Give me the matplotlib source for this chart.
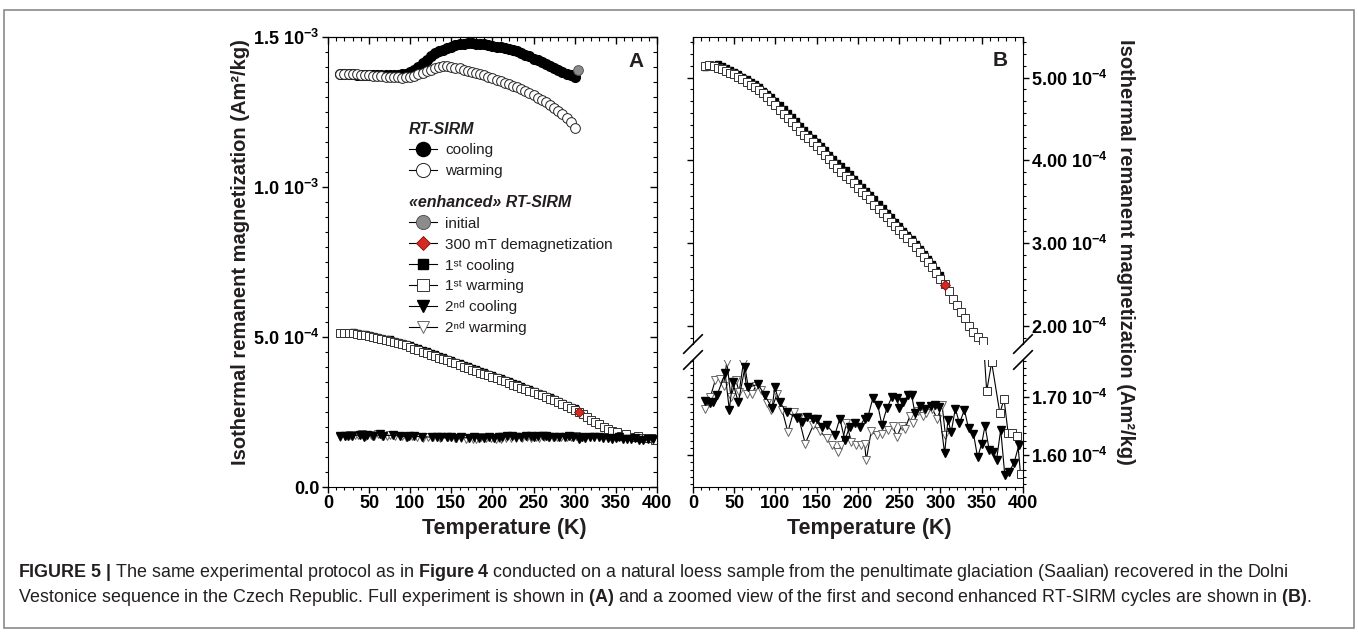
import matplotlib
matplotlib.use('Agg')
import matplotlib.pyplot as plt
from matplotlib.ticker import MultipleLocator, AutoMinorLocator
from matplotlib.patches import Rectangle
import numpy as np

plt.rcParams['font.family'] = ['Liberation Sans', 'DejaVu Sans']
plt.rcParams['mathtext.fontset'] = 'custom'
plt.rcParams['mathtext.rm'] = 'Liberation Sans'
plt.rcParams['mathtext.bf'] = 'Liberation Sans:bold'
plt.rcParams['mathtext.it'] = 'Liberation Sans:italic'
plt.rcParams['text.color'] = '#231f20'

# ---- data (temperature in K, magnetization) ----
# RT-SIRM, values in 1e-3 Am2/kg
rt_cool_t = [300, 295, 290, 285, 280, 275, 270, 265, 260, 255, 250, 245, 240, 235, 230,
             225, 220, 215, 210, 205, 200, 195, 190, 185, 180, 175, 170, 165, 160, 155,
             150, 145, 140, 135, 130, 125, 120, 115, 110, 105, 100, 95, 90, 85, 80,
             75, 70, 65, 60, 55, 50, 45, 40, 35, 30, 25, 20, 15]
rt_cool_m = [1.367, 1.372, 1.378, 1.384, 1.390, 1.397, 1.404, 1.410, 1.416, 1.422, 1.428, 1.435,
             1.441, 1.447, 1.452, 1.456, 1.460, 1.462, 1.465, 1.468, 1.470, 1.473, 1.475, 1.477,
             1.478, 1.479, 1.479, 1.478, 1.476, 1.472, 1.467, 1.463, 1.458, 1.452, 1.445, 1.435,
             1.423, 1.412, 1.400, 1.390, 1.383, 1.378, 1.375, 1.373, 1.373, 1.372, 1.372, 1.372,
             1.372, 1.373, 1.373, 1.373, 1.374, 1.374, 1.375, 1.375, 1.376, 1.376]
rt_warm_t = [15, 20, 25, 30, 35, 40, 45, 50, 55, 60, 65, 70, 75, 80, 85, 90, 95, 100, 105, 110,
             115, 120, 125, 130, 135, 140, 145, 150, 155, 160, 165, 170, 175, 180, 185, 190,
             195, 200, 205, 210, 215, 220, 225, 230, 235, 240, 245, 250, 255, 260, 265, 270,
             275, 280, 285, 290, 295, 300]
rt_warm_m = [1.377, 1.377, 1.376, 1.376, 1.375, 1.374, 1.373, 1.372, 1.371, 1.370,
             1.369, 1.368, 1.367, 1.366, 1.365, 1.364, 1.365, 1.367, 1.370, 1.375,
             1.380, 1.385, 1.390, 1.396, 1.400, 1.402, 1.402, 1.400, 1.398, 1.396,
             1.390, 1.387, 1.384, 1.380, 1.376, 1.372, 1.368, 1.363, 1.358, 1.353,
             1.348, 1.343, 1.338, 1.332, 1.326, 1.319, 1.312, 1.305, 1.298, 1.290,
             1.282, 1.273, 1.264, 1.254, 1.243, 1.230, 1.215, 1.197]
init_t = [304]
init_m = [1.39]

# enhanced RT-SIRM, values in 1e-4 Am2/kg
demag_t = [305]
demag_m = [2.49]
c1_t = [300, 295, 290, 285, 280, 275, 270, 265, 260, 255, 250, 245, 240, 235, 230,
        225, 220, 215, 210, 205, 200, 195, 190, 185, 180, 175, 170, 165, 160, 155,
        150, 145, 140, 135, 130, 125, 120, 115, 110, 105, 100, 95, 90, 85, 80,
        75, 70, 65, 60, 55, 50, 45, 40, 35, 30, 25, 20, 15]
c1_m = [2.62, 2.68, 2.75, 2.81, 2.87, 2.93, 2.99, 3.05, 3.10, 3.15,
        3.21, 3.26, 3.31, 3.36, 3.42, 3.47, 3.53, 3.58, 3.63, 3.68,
        3.73, 3.78, 3.83, 3.88, 3.93, 3.97, 4.02, 4.07, 4.12, 4.17,
        4.22, 4.27, 4.32, 4.37, 4.42, 4.47, 4.52, 4.57, 4.62, 4.67,
        4.72, 4.76, 4.80, 4.84, 4.88, 4.92, 4.95, 4.98, 5.01, 5.04,
        5.07, 5.09, 5.11, 5.14, 5.16, 5.15, 5.14, 5.13]
w1_t = [15, 20, 25, 30, 35, 40, 45, 50, 55, 60, 65, 70, 75, 80, 85, 90, 95, 100, 105, 110,
        115, 120, 125, 130, 135, 140, 145, 150, 155, 160, 165, 170, 175, 180, 185, 190,
        195, 200, 205, 210, 215, 220, 225, 230, 235, 240, 245, 250, 255, 260, 265, 270,
        275, 280, 285, 290, 295, 300, 305, 310, 315, 320, 325, 330, 335, 340, 345,
        351, 356, 362, 372, 377, 382, 387, 393, 397]
w1_m = [5.14, 5.15, 5.14, 5.12, 5.10, 5.08, 5.06, 5.04, 5.01, 4.98,
        4.95, 4.91, 4.88, 4.85, 4.81, 4.77, 4.72, 4.67, 4.61, 4.56,
        4.51, 4.46, 4.41, 4.36, 4.31, 4.27, 4.22, 4.17, 4.12, 4.06,
        4.01, 3.96, 3.91, 3.86, 3.81, 3.77, 3.72, 3.67, 3.62, 3.58,
        3.53, 3.46, 3.41, 3.36, 3.31, 3.26, 3.21, 3.16, 3.11, 3.06,
        3.01, 2.95, 2.89, 2.83, 2.77, 2.71, 2.64, 2.57, 2.50, 2.42,
        2.33, 2.25, 2.17, 2.09, 2.00, 1.93, 1.87,
        1.82, 1.710, 1.760, 1.672, 1.697, 1.638, 1.638, 1.633, 1.567]
c2_t = [15, 21, 24, 29, 39, 44, 48, 55, 63, 67, 79, 87, 96, 99, 105, 114, 126, 132, 138, 145,
        150, 156, 162, 172, 178, 184, 190, 196, 202, 208, 212, 218, 224, 229, 235, 241, 247,
        250, 255, 261, 265, 269, 275, 281, 288, 293, 298, 305, 309, 313, 318, 323, 329, 334,
        340, 345, 350, 354, 359, 364, 368, 373, 378, 383, 389, 395]
c2_m = [1.693, 1.690, 1.691, 1.703, 1.741, 1.678, 1.726, 1.691, 1.752, 1.717,
        1.722, 1.703, 1.681, 1.717, 1.691, 1.674, 1.664, 1.657, 1.666, 1.662,
        1.663, 1.649, 1.652, 1.635, 1.663, 1.626, 1.649, 1.656, 1.649, 1.663,
        1.666, 1.698, 1.686, 1.652, 1.681, 1.700, 1.698, 1.681, 1.692, 1.704,
        1.704, 1.672, 1.684, 1.680, 1.684, 1.686, 1.683, 1.603, 1.660, 1.640,
        1.680, 1.655, 1.678, 1.646, 1.637, 1.596, 1.620, 1.651, 1.609, 1.606,
        1.592, 1.644, 1.565, 1.571, 1.586, 1.617]
w2_t = [15, 21, 27, 33, 37, 41, 46, 52, 56, 61, 66, 72, 76, 82, 90, 95, 102, 108, 115, 122,
        128, 136, 146, 154, 162, 168, 176, 180, 186, 192, 198, 204, 208, 210, 216, 223, 229,
        236, 242, 247, 253, 257, 263, 267, 273, 279, 283, 290, 296, 302, 306]
w2_m = [1.680, 1.700, 1.729, 1.732, 1.720, 1.761, 1.700, 1.729, 1.709, 1.759,
        1.706, 1.706, 1.720, 1.712, 1.689, 1.678, 1.706, 1.678, 1.640, 1.675,
        1.666, 1.620, 1.652, 1.641, 1.629, 1.617, 1.606, 1.617, 1.655, 1.623,
        1.618, 1.617, 1.620, 1.591, 1.641, 1.634, 1.637, 1.644, 1.651, 1.631,
        1.651, 1.645, 1.668, 1.655, 1.676, 1.668, 1.672, 1.680, 1.663, 1.686,
        1.634]

x_ticks = [0, 50, 100, 150, 200, 250, 300, 350, 400]
a_yticks = [0.0, 5e-4, 1e-3, 1.5e-3]
a_ylabels = ['0.0', r'5.0 10$^{\mathbf{-4}}$', r'1.0 10$^{\mathbf{-3}}$', r'1.5 10$^{\mathbf{-3}}$']
bu_yticks = [2e-4, 3e-4, 4e-4, 5e-4]
bu_ylabels = [r'2.00 10$^{\mathbf{-4}}$', r'3.00 10$^{\mathbf{-4}}$',
              r'4.00 10$^{\mathbf{-4}}$', r'5.00 10$^{\mathbf{-4}}$']
bl_yticks = [1.6e-4, 1.7e-4]
bl_ylabels = [r'1.60 10$^{\mathbf{-4}}$', r'1.70 10$^{\mathbf{-4}}$']
leg1_labels = ['cooling', 'warming']
leg2_labels = ['initial', '300 mT demagnetization', '1\u02e2\u1d57 cooling',
               '1\u02e2\u1d57 warming', '2\u207f\u1d48 cooling', '2\u207f\u1d48 warming']

ylab = 'Isothermal remanent magnetization (Am\u00b2/kg)'

s_rtc = dict(marker='o', ms=7, mfc='black', mec='black', color='black', lw=0.8)
s_rtw = dict(marker='o', ms=7, mfc='white', mec='#222222', mew=0.7, color='black', lw=0.8)
s_ini = dict(marker='o', ms=7, mfc='#8c8c8c', mec='#555555', mew=0.7, color='black', lw=0.8)
s_dem = dict(marker='D', ms=5, mfc='#d42a20', mec='#7a1010', mew=0.6, color='black', lw=0.8)
s_c1 = dict(marker='s', ms=5, mfc='black', mec='black', color='black', lw=0.8)
s_w1 = dict(marker='s', ms=5.5, mfc='white', mec='#333333', mew=0.7, color='black', lw=0.8)
s_c2 = dict(marker='v', ms=6, mfc='black', mec='black', color='black', lw=0.8)
s_w2 = dict(marker='v', ms=6, mfc='white', mec='#666666', mew=0.7, color='black', lw=0.8)

fig = plt.figure(figsize=(13.58, 6.41), dpi=100)
fig.patches.append(Rectangle((0.003, 0.02), 0.994, 0.964, transform=fig.transFigure,
                             fill=False, edgecolor='#8a8a8a', lw=1.2))

e3 = 1e-3
e4 = 1e-4
TICK = 13


def x_setup(ax, labels):
    ax.set_xlim(0, 400)
    ax.set_xticks(x_ticks)
    ax.xaxis.set_minor_locator(MultipleLocator(10))
    if labels:
        ax.set_xticklabels([str(t) for t in x_ticks], fontsize=TICK, fontweight='bold')
    else:
        ax.set_xticklabels([])


# ---------------- panel A ----------------
axA = fig.add_axes([0.2415, 0.2402, 0.2423, 0.7021])
h_rtc, = axA.plot(rt_cool_t, np.array(rt_cool_m) * e3, **s_rtc)
h_rtw, = axA.plot(rt_warm_t, np.array(rt_warm_m) * e3, **s_rtw)
h_ini, = axA.plot(init_t, np.array(init_m) * e3, **s_ini)
h_c1, = axA.plot(c1_t, np.array(c1_m) * e4, **s_c1)
h_w1, = axA.plot(w1_t, np.array(w1_m) * e4, **s_w1)
h_w2, = axA.plot(w2_t, np.array(w2_m) * e4, **s_w2)
h_c2, = axA.plot(c2_t, np.array(c2_m) * e4, **s_c2)
h_dem, = axA.plot(demag_t, np.array(demag_m) * e4, **s_dem)

x_setup(axA, True)
axA.set_ylim(0, 1.5e-3)
axA.set_yticks(a_yticks)
axA.set_yticklabels(a_ylabels, fontsize=TICK, fontweight='bold')
axA.yaxis.set_minor_locator(MultipleLocator(5e-5))
axA.tick_params(which='major', direction='out', length=4, width=1, pad=2)
axA.tick_params(which='minor', direction='out', length=2.5, width=0.8)
secx = axA.secondary_xaxis('top')
secx.set_xticks(x_ticks)
secx.xaxis.set_minor_locator(MultipleLocator(10))
secx.tick_params(which='major', direction='in', labeltop=False, length=5, width=1)
secx.tick_params(which='minor', direction='in', length=3, width=0.8)
secy = axA.secondary_yaxis('right')
secy.set_yticks(a_yticks)
secy.yaxis.set_minor_locator(MultipleLocator(5e-5))
secy.tick_params(which='major', direction='in', labelright=False, length=5, width=1)
secy.tick_params(which='minor', direction='in', length=3, width=0.8)
axA.text(0.936, 0.945, 'A', transform=axA.transAxes, fontsize=15, fontweight='bold',
         ha='center', va='center')

leg_kw = dict(loc='upper left', frameon=False, alignment='left', fontsize=11,
              handlelength=1.85, handletextpad=0.55, labelspacing=0.45, borderpad=0,
              borderaxespad=0, markerscale=1.45,
              title_fontproperties={'weight': 'bold', 'style': 'italic', 'size': 11.5})
leg1 = axA.legend([h_rtc, h_rtw], leg1_labels, title='RT-SIRM',
                  bbox_to_anchor=(0.245, 0.812), **leg_kw)
axA.add_artist(leg1)
axA.legend([h_ini, h_dem, h_c1, h_w1, h_c2, h_w2], leg2_labels,
           title='\u00abenhanced\u00bb RT-SIRM', bbox_to_anchor=(0.245, 0.649), **leg_kw)

# ---------------- panel B (broken axis) ----------------
axBu = fig.add_axes([0.5103, 0.4633, 0.2430, 0.4790])
axBl = fig.add_axes([0.5103, 0.2402, 0.2430, 0.1982])
bu_lo = 1.78

# upper part: first cycle only (2nd cycle stays below the break)
c1_arr = np.array(c1_m)
w1_arr = np.array(w1_m)
axBu.plot(c1_t, c1_arr * e4, **s_c1)
axBu.plot(w1_t, w1_arr * e4, color='black', lw=0.8)
keep = w1_arr > bu_lo
axBu.plot(np.array(w1_t)[keep], w1_arr[keep] * e4, **dict(s_w1, ls='none'))
axBu.plot(demag_t, np.array(demag_m) * e4, **s_dem)

# lower part
axBl.plot(w1_t, w1_arr * e4, **s_w1)
axBl.plot(w2_t, np.array(w2_m) * e4, **s_w2)
axBl.plot(c2_t, np.array(c2_m) * e4, **s_c2)

x_setup(axBu, False)
x_setup(axBl, True)
axBu.set_ylim(bu_lo * e4, 5.49e-4)
axBl.set_ylim(1.545e-4, 1.764e-4)
axBu.set_yticks(bu_yticks)
axBu.set_yticklabels(bu_ylabels, fontsize=TICK, fontweight='bold')
axBu.yaxis.set_minor_locator(AutoMinorLocator(7))
axBl.set_yticks(bl_yticks)
axBl.set_yticklabels(bl_ylabels, fontsize=TICK, fontweight='bold')
axBl.yaxis.set_minor_locator(AutoMinorLocator(8))

axBu.spines['bottom'].set_visible(False)
axBl.spines['top'].set_visible(False)
for ax in (axBu, axBl):
    ax.tick_params(axis='y', which='both', left=True, right=True,
                   labelleft=False, labelright=True, direction='out')
    ax.tick_params(which='major', length=4, width=1, pad=2)
    ax.tick_params(which='minor', length=2.5, width=0.8)
axBu.tick_params(axis='x', which='major', bottom=False, top=True, direction='in', length=5)
axBu.tick_params(axis='x', which='minor', bottom=False, top=True, direction='in', length=3)
axBl.tick_params(axis='x', which='both', top=False, direction='out')
axBu.text(0.93, 0.925, 'B', transform=axBu.transAxes, fontsize=15, fontweight='bold',
          ha='center', va='center')

# break marks
dxu, dyu = 0.028, 0.03
dyl = dyu * 0.4790 / 0.1982
for xx in (0, 1):
    axBu.plot([xx - dxu, xx + dxu], [-dyu, dyu], transform=axBu.transAxes,
              color='black', lw=1.2, clip_on=False)
    axBl.plot([xx - dxu, xx + dxu], [1 - dyl, 1 + dyl], transform=axBl.transAxes,
              color='black', lw=1.2, clip_on=False)

# axis labels
fig.text(0.177, 0.607, ylab, rotation=90, ha='center', va='center',
         fontsize=14.5, fontweight='bold')
fig.text(0.829, 0.607, ylab, rotation=270, ha='center', va='center',
         fontsize=14.5, fontweight='bold')
fig.text(0.371, 0.176, 'Temperature (K)', ha='center', va='center', fontsize=15.5, fontweight='bold')
fig.text(0.640, 0.176, 'Temperature (K)', ha='center', va='center', fontsize=15.5, fontweight='bold')

# caption
cap1 = (r'$\mathbf{FIGURE\ 5\ |}$ The same experimental protocol as in $\mathbf{Figure\ 4}$ '
        'conducted on a natural loess sample from the penultimate glaciation (Saalian) '
        'recovered in the Dolni')
cap2 = ('Vestonice sequence in the Czech Republic. Full experiment is shown in '
        r'$\mathbf{(A)}$ and a zoomed view of the first and second enhanced RT-SIRM cycles '
        r'are shown in $\mathbf{(B)}$.')
fig.text(0.0133, 0.1076, cap1, fontsize=12.9, va='center', ha='left')
fig.text(0.0133, 0.0671, cap2, fontsize=12.9, va='center', ha='left')

fig.savefig('out.png', dpi=100)
